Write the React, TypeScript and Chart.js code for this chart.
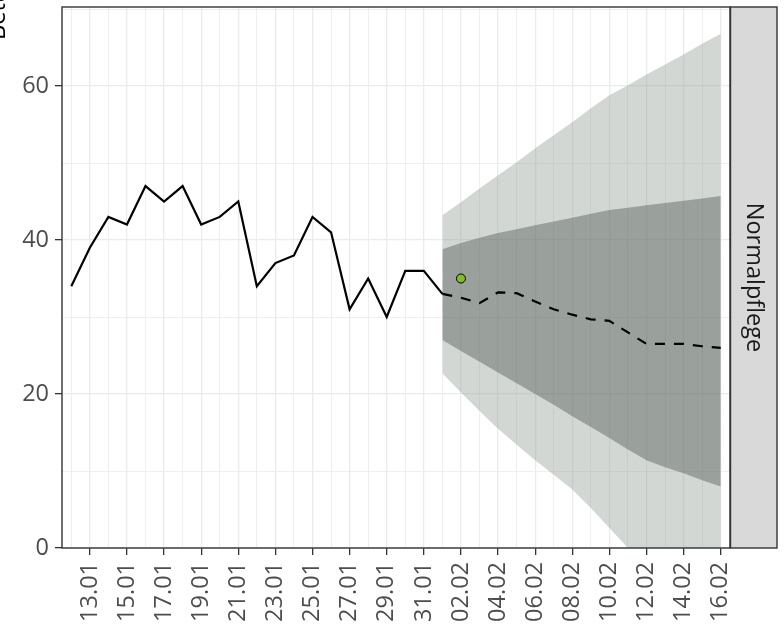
import React, { useEffect, useRef } from 'react';
import { Chart, registerables } from 'chart.js';
Chart.register(...registerables);

const dates = [
  '12.01', '13.01', '14.01', '15.01', '16.01', '17.01', '18.01', '19.01', '20.01', '21.01',
  '22.01', '23.01', '24.01', '25.01', '26.01', '27.01', '28.01', '29.01', '30.01', '31.01',
  '01.02', '02.02', '03.02', '04.02', '05.02', '06.02', '07.02', '08.02', '09.02', '10.02',
  '11.02', '12.02', '13.02', '14.02', '15.02', '16.02',
];

// observed 12.01 .. 01.02
const observed = [34, 39, 43, 42, 47, 45, 47, 42, 43, 45, 34, 37, 38, 43, 41, 31, 35, 30, 36, 36, 33];
const forecastStart = 20; // 01.02
// forecast 01.02 .. 16.02
const forecast = [33, 32.5, 31.8, 33.2, 33.1, 32.0, 31.0, 30.3, 29.7, 29.5, 28.0, 26.5, 26.5, 26.5, 26.2, 26.0];
const outerUpper = [43.2, 44.9, 46.7, 48.4, 50.1, 51.9, 53.6, 55.3, 57.1, 58.8, 60.1, 61.5, 62.8, 64.1, 65.5, 66.8];
const innerUpper = [38.8, 39.6, 40.3, 40.9, 41.4, 41.9, 42.4, 42.9, 43.4, 43.9, 44.2, 44.5, 44.8, 45.1, 45.4, 45.7];
const innerLower = [27.0, 25.6, 24.2, 22.8, 21.4, 20.0, 18.6, 17.1, 15.7, 14.3, 12.8, 11.4, 10.5, 9.7, 8.8, 8.0];
const outerLower = [22.7, 20.2, 17.8, 15.5, 13.4, 11.4, 9.5, 7.6, 5.2, 2.6, 0, 0, 0, 0, 0, 0];
// actual value of the new day
const actualIndex = 21; // 02.02
const actualValue = 35;

const yTicks = [0, 10, 20, 30, 40, 50, 60, 70];
const yTitle = 'Betten';
const facetLabel = 'Normalpflege';

const FONT = "'Open Sans', 'Noto Sans', sans-serif";

const fc = (arr: number[]) => arr.map((y, i) => ({ x: forecastStart + i, y }));

export default function App() {
  const ref = useRef<HTMLCanvasElement | null>(null);
  useEffect(() => {
    if (!ref.current) return;
    const decor = {
      id: 'decor',
      afterDraw(chart: any) {
        const { ctx, chartArea: a } = chart;
        ctx.save();
        // panel border
        ctx.strokeStyle = '#333333';
        ctx.lineWidth = 1.4;
        ctx.strokeRect(a.left, a.top, a.right - a.left, a.bottom - a.top);
        // strip
        const sx = a.right + 0.5;
        const sw = 777 - sx;
        ctx.fillStyle = '#d9d9d9';
        ctx.fillRect(sx, a.top, sw, a.bottom - a.top);
        ctx.strokeRect(sx, a.top, sw, a.bottom - a.top);
        ctx.fillStyle = '#1a1a1a';
        ctx.font = `23.5px ${FONT}`;
        ctx.translate(sx + sw / 2, (a.top + a.bottom) / 2);
        ctx.rotate(Math.PI / 2);
        ctx.textAlign = 'center';
        ctx.textBaseline = 'middle';
        ctx.fillText(facetLabel, 0, 0);
        ctx.restore();
        // y title (cut off)
        ctx.save();
        ctx.fillStyle = '#000000';
        ctx.font = `23.5px ${FONT}`;
        ctx.translate(5, 40);
        ctx.rotate(-Math.PI / 2);
        ctx.textAlign = 'left';
        ctx.textBaseline = 'alphabetic';
        ctx.fillText(yTitle, 0, 0);
        ctx.restore();
      },
    };
    const chart = new Chart(ref.current, {
      type: 'line',
      data: {
        datasets: [
          { data: fc(outerLower), borderWidth: 0, pointRadius: 0, fill: false, order: 5, tension: 0 },
          { data: fc(outerUpper), borderWidth: 0, pointRadius: 0, fill: 0, backgroundColor: 'rgba(143,155,148,0.4)', order: 4, tension: 0 },
          { data: fc(innerLower), borderWidth: 0, pointRadius: 0, fill: false, order: 3, tension: 0 },
          { data: fc(innerUpper), borderWidth: 0, pointRadius: 0, fill: 2, backgroundColor: 'rgba(70,78,72,0.4)', order: 2, tension: 0 },
          { data: observed.map((y, i) => ({ x: i, y })), borderColor: '#000', borderWidth: 2.2, pointRadius: 0, fill: false, order: 1, tension: 0 },
          { data: fc(forecast), borderColor: '#000', borderWidth: 2.2, borderDash: [10, 9], pointRadius: 0, fill: false, order: 1, tension: 0 },
          { data: [{ x: actualIndex, y: actualValue }], showLine: false, pointRadius: 4.5, pointBackgroundColor: '#80bf2a', pointBorderColor: '#000', pointBorderWidth: 1, order: 0 },
        ] as any,
      },
      options: {
        animation: false,
        responsive: false,
        devicePixelRatio: 1,
        layout: { padding: { top: 7, right: 54, left: 0, bottom: 0 } },
        plugins: { legend: { display: false }, tooltip: { enabled: false } },
        scales: {
          x: {
            type: 'linear',
            min: -0.5,
            max: 35.5,
            afterBuildTicks: (s: any) => { s.ticks = dates.map((_, i) => ({ value: i })); },
            afterFit: (s: any) => { s.height = 78; s.paddingLeft = 0; s.paddingRight = 0; },
            ticks: {
              autoSkip: false,
              minRotation: 90,
              maxRotation: 90,
              padding: 7,
              color: '#4d4d4d',
              font: { family: FONT, size: 23.5 },
              callback: (v: any) => { const i = Math.round(Number(v)); return i % 2 === 1 ? dates[i] : ''; },
            },
            grid: {
              color: '#ebebeb',
              lineWidth: (c: any) => (Math.round(c.tick?.value ?? 0) % 2 === 1 ? 1.3 : 0.8),
              tickLength: 7,
              tickWidth: 1.3,
              tickColor: (c: any) => (Math.round(c.tick?.value ?? 0) % 2 === 1 ? '#333333' : 'rgba(0,0,0,0)'),
            },
            border: { display: false },
          },
          y: {
            type: 'linear',
            min: 0,
            max: 70.26,
            afterBuildTicks: (s: any) => { s.ticks = yTicks.map((v) => ({ value: v })); },
            afterFit: (s: any) => { s.width = 62; s.paddingTop = 0; s.paddingBottom = 0; },
            ticks: {
              padding: 6,
              color: '#4d4d4d',
              font: { family: FONT, size: 23.5 },
              callback: (v: any) => (Number(v) % 20 === 0 ? String(v) : ''),
            },
            grid: {
              color: '#ebebeb',
              lineWidth: (c: any) => ((c.tick?.value ?? 0) % 20 === 0 ? 1.3 : 0.8),
              tickLength: 7,
              tickWidth: 1.3,
              tickColor: (c: any) => ((c.tick?.value ?? 0) % 20 === 0 ? '#333333' : 'rgba(0,0,0,0)'),
            },
            border: { display: false },
          },
        },
      } as any,
      plugins: [decor],
    });
    return () => chart.destroy();
  }, []);
  return (
    <div style={{ position: 'absolute', left: 0, top: 0, width: 784, height: 626, background: '#fff' }}>
      <canvas ref={ref} width={784} height={626} style={{ display: 'block' }} />
    </div>
  );
}
